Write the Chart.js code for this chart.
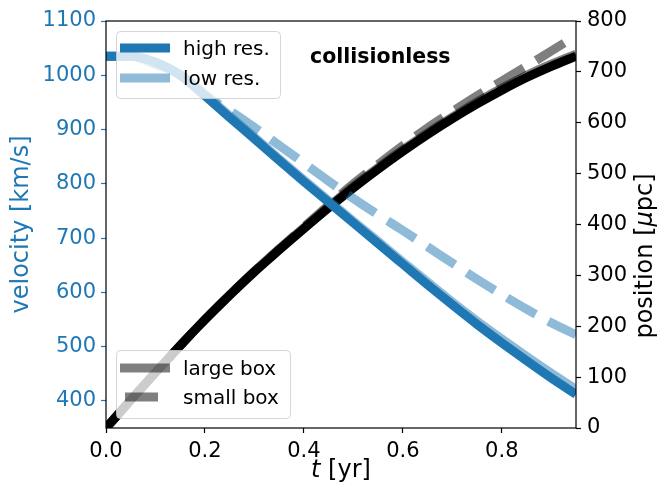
<!DOCTYPE html>
<html>
<head>
<meta charset="utf-8">
<script src="https://cdn.jsdelivr.net/npm/chart.js@4.4.0/dist/chart.umd.min.js"></script>
<style>
  html, body { margin: 0; padding: 0; background: #fff; }
  #wrap { width: 659px; height: 488px; }
</style>
</head>
<body>
<div id="wrap"><canvas id="plot" width="659" height="488"></canvas></div>
<script>
// time samples [yr]
const times = [0.00, 0.05, 0.10, 0.15, 0.20, 0.25, 0.30, 0.35, 0.40, 0.45,
               0.50, 0.55, 0.60, 0.65, 0.70, 0.75, 0.80, 0.85, 0.90, 0.95];

// velocity [km/s]
const velHighLarge = [1035, 1035, 1024, 1000, 962, 922, 883, 843, 804, 766,
                      728, 690, 652, 614, 577, 541, 507, 474, 442, 412];
const velLowLarge  = [1035, 1035, 1020, 1002, 965, 925, 886, 846, 807, 769,
                      731, 694, 656, 619, 582, 547, 514, 482, 451, 421];
const velLowSmall  = [1035, 1035, 1024, 1000, 963, 935, 904, 871, 838, 805,
                      773, 743, 714, 684, 654, 624, 596, 569, 544, 522];

// position [micro pc]
const posHighLarge = [0, 55, 109, 162, 213, 261, 307, 350, 392, 433,
                      472, 509, 544, 577, 608, 637, 664, 689, 711, 731];
const posLowLarge  = [0, 55, 109, 162, 213, 262, 308, 352, 394, 435,
                      475, 512, 547, 580, 611, 641, 668, 693, 715, 735];
const posLowSmall  = [0, 55, 109, 162, 213, 261, 308, 351, 395, 438,
                      480, 518, 555, 590, 622, 653, 682, 711, 741, 771];

const xTicks = [0.0, 0.2, 0.4, 0.6, 0.8];
const velTicks = [400, 500, 600, 700, 800, 900, 1000, 1100];
const posTicks = [0, 100, 200, 300, 400, 500, 600, 700, 800];

const resLabels = ['high res.', 'low res.'];
const boxLabels = ['large box', 'small box'];

const FONT = 'DejaVu Sans';
const BLUE = '#1f77b4';
const BLUE_LIGHT = 'rgba(31,119,180,0.5)';
const GRAY = 'rgba(0,0,0,0.5)';
const LW = 9;
const DASH = [33, 14.4];

function pts(ys) {
    return times.map((t, i) => ({ x: t, y: ys[i] }));
}

function line(data, color, axis, dash) {
    return {
        data: pts(data),
        yAxisID: axis,
        borderColor: color,
        borderWidth: LW,
        borderDash: dash || [],
        borderCapStyle: 'butt',
        borderJoinStyle: 'round',
        cubicInterpolationMode: 'monotone',
        pointRadius: 0,
        fill: false
    };
}

function fixTicks(list) {
    return scale => { scale.ticks = list.map(v => ({ value: v })); };
}

// frame, legends, annotation and axis titles
const overlay = {
    id: 'overlay',
    afterDraw(chart) {
        const ctx = chart.ctx;
        const a = chart.chartArea;
        ctx.save();

        ctx.strokeStyle = '#000';
        ctx.lineWidth = 1.2;
        ctx.strokeRect(a.left, a.top, a.right - a.left, a.bottom - a.top);

        const legendBox = (x, y, w, h) => {
            ctx.beginPath();
            if (ctx.roundRect) ctx.roundRect(x, y, w, h, 4); else ctx.rect(x, y, w, h);
            ctx.fillStyle = 'rgba(255,255,255,0.8)';
            ctx.fill();
            ctx.strokeStyle = 'rgba(204,204,204,0.8)';
            ctx.lineWidth = 1;
            ctx.stroke();
        };
        const sample = (x0, x1, y, color, dash) => {
            ctx.beginPath();
            ctx.setLineDash(dash || []);
            ctx.lineCap = 'butt';
            ctx.strokeStyle = color;
            ctx.lineWidth = LW;
            ctx.moveTo(x0, y);
            ctx.lineTo(x1, y);
            ctx.stroke();
            ctx.setLineDash([]);
        };
        const label = (text, x, y) => {
            ctx.fillStyle = '#000';
            ctx.font = '20px "' + FONT + '"';
            ctx.textBaseline = 'alphabetic';
            ctx.textAlign = 'left';
            ctx.fillText(text, x, y);
        };

        legendBox(116.5, 31.5, 164, 67);
        sample(120, 170, 48, BLUE);
        label(resLabels[0], 183, 55);
        sample(120, 170, 78, BLUE_LIGHT);
        label(resLabels[1], 183, 85);

        legendBox(116.5, 350.5, 174, 68);
        sample(120, 170, 368, GRAY);
        label(boxLabels[0], 183, 375);
        sample(125, 158, 397, GRAY);
        label(boxLabels[1], 183, 404);

        ctx.fillStyle = '#000';
        ctx.font = 'bold 20.5px "' + FONT + '"';
        ctx.fillText('collisionless', 310, 63);

        // axis titles
        ctx.font = '24px "' + FONT + '"';
        ctx.textAlign = 'center';
        ctx.save();
        ctx.translate(28, (a.top + a.bottom) / 2);
        ctx.rotate(-Math.PI / 2);
        ctx.fillStyle = BLUE;
        ctx.fillText('velocity [km/s]', 0, 0);
        ctx.restore();

        ctx.save();
        ctx.translate(652, 256);
        ctx.rotate(-Math.PI / 2);
        ctx.fillStyle = '#000';
        const p1 = 'position [', mu = '\u03bc', p2 = 'pc]';
        ctx.font = '24px "' + FONT + '"';
        const w1 = ctx.measureText(p1).width, w3 = ctx.measureText(p2).width;
        ctx.font = 'italic 24px "' + FONT + '"';
        const w2 = ctx.measureText(mu).width;
        let x = -(w1 + w2 + w3) / 2;
        ctx.textAlign = 'left';
        ctx.font = '24px "' + FONT + '"';
        ctx.fillText(p1, x, 0); x += w1;
        ctx.font = 'italic 24px "' + FONT + '"';
        ctx.fillText(mu, x, 0); x += w2;
        ctx.font = '24px "' + FONT + '"';
        ctx.fillText(p2, x, 0);
        ctx.restore();

        // t [yr]
        ctx.font = 'italic 24px "' + FONT + '"';
        const wt = ctx.measureText('t').width;
        ctx.font = '24px "' + FONT + '"';
        const wr = ctx.measureText(' [yr]').width;
        let tx = (a.left + a.right) / 2 - (wt + wr) / 2;
        ctx.textAlign = 'left';
        ctx.font = 'italic 24px "' + FONT + '"';
        ctx.fillText('t', tx, 477);
        ctx.font = '24px "' + FONT + '"';
        ctx.fillText(' [yr]', tx + wt, 477);

        ctx.restore();
    }
};

new Chart(document.getElementById('plot'), {
    type: 'line',
    data: {
        datasets: [
            line(velHighLarge, BLUE, 'yVel'),
            line(velLowLarge, BLUE_LIGHT, 'yVel'),
            line(velLowSmall, BLUE_LIGHT, 'yVel', DASH),
            line(posLowSmall, GRAY, 'yPos', DASH),
            line(posLowLarge, GRAY, 'yPos'),
            line(posHighLarge, '#000', 'yPos')
        ]
    },
    options: {
        responsive: false,
        animation: false,
        layout: { padding: { top: 21, left: 0, right: 0, bottom: 0 } },
        plugins: { legend: { display: false }, tooltip: { enabled: false } },
        scales: {
            x: {
                type: 'linear',
                min: 0,
                max: 0.95,
                afterBuildTicks: fixTicks(xTicks),
                afterFit: s => { s.height = 60; },
                border: { display: false },
                grid: { drawOnChartArea: false, tickLength: 5, tickColor: '#000', tickWidth: 1.2 },
                ticks: {
                    color: '#000',
                    padding: 6,
                    font: { family: FONT, size: 21 },
                    callback: v => v.toFixed(1)
                }
            },
            yVel: {
                type: 'linear',
                position: 'left',
                min: 350,
                max: 1100,
                afterBuildTicks: fixTicks(velTicks),
                afterFit: s => { s.width = 106; },
                border: { display: false },
                grid: { drawOnChartArea: false, tickLength: 5, tickColor: BLUE, tickWidth: 1.2 },
                ticks: { color: BLUE, padding: 5, font: { family: FONT, size: 21 }, callback: v => String(v) }
            },
            yPos: {
                type: 'linear',
                position: 'right',
                min: 0,
                max: 800,
                afterBuildTicks: fixTicks(posTicks),
                afterFit: s => { s.width = 83; },
                border: { display: false },
                grid: { drawOnChartArea: false, tickLength: 5, tickColor: '#000', tickWidth: 1.2 },
                ticks: { color: '#000', padding: 6, font: { family: FONT, size: 21 }, callback: v => String(v) }
            }
        }
    },
    plugins: [overlay]
});
</script>
</body>
</html>
